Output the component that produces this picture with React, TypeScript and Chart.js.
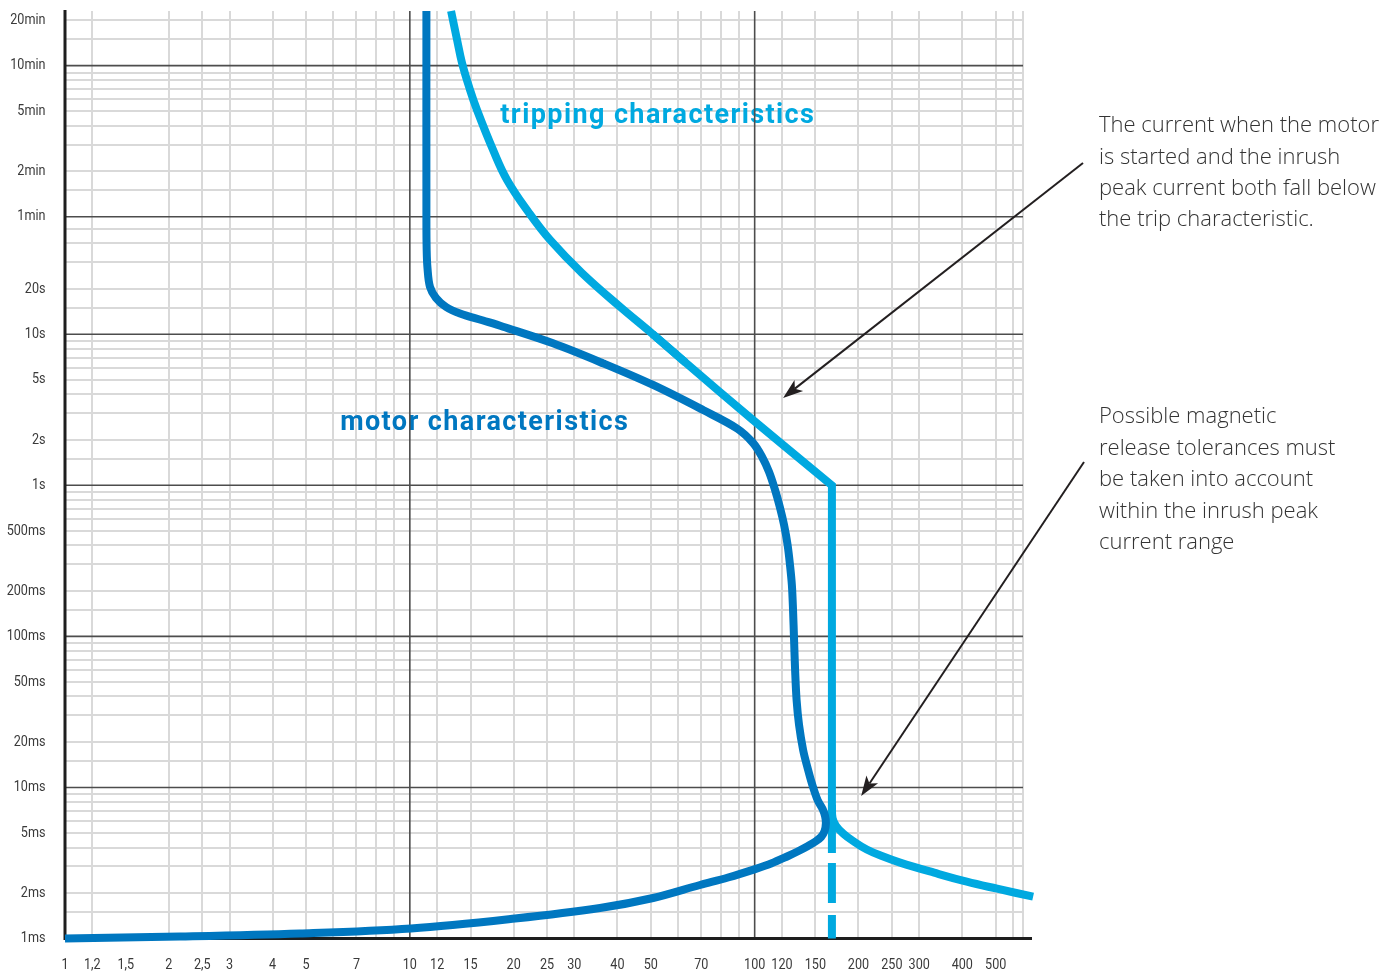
import { useEffect, useRef } from "react";
import { Chart, registerables } from "chart.js";

Chart.register(...registerables);

// Current as a multiple of rated current (x) against time in seconds (y)

// Motor start-up characteristic (drawn top to bottom, folding back at the inrush peak)
const motorCurrent = [11.17, 11.17, 11.19, 11.25, 11.44, 11.91, 12.74, 13.98, 16.31, 18.63, 26.02, 36.35, 50.74, 70.84, 88.9, 98.95, 105.1, 110.1, 114.6, 118.5, 121.7, 124.6, 126.6, 128.2, 129.2, 130.1, 131.0, 132.3, 134.5, 138.2, 142.4, 146.7, 152.2, 157.4, 160.0, 160.9, 159.5, 155.8, 149.7, 142.8, 133.6, 124.2, 111.6, 100.3, 83.7, 69.4, 50.74, 35.6, 20.19, 10.08, 4.8, 2.156, 1];
const motorTime = [1380, 57.1, 36.1, 27.5, 20.6, 17.4, 15.15, 13.73, 12.33, 11.22, 8.71, 6.42, 4.615, 3.152, 2.378, 1.906, 1.54, 1.225, 0.931, 0.708, 0.546, 0.4026, 0.2969, 0.2188, 0.1495, 0.0946, 0.0599, 0.03793, 0.0259, 0.0177, 0.01345, 0.01054, 0.008258, 0.0072, 0.006471, 0.005815, 0.005147, 0.004698, 0.004367, 0.004095, 0.003778, 0.00349, 0.003137, 0.00288, 0.002534, 0.00226, 0.001854, 0.001592, 0.001356, 0.001165, 0.001079, 0.00103, 0.001];

// Tripping characteristic: thermal (curved) part
const tripThermalCurrent = [13.17, 13.71, 14.17, 14.95, 15.66, 17.43, 19.14, 22.17, 25.51, 31.58, 40.7, 50.57, 63];
const tripThermalTime = [1380, 887, 625, 414, 305, 166, 105, 63.5, 42.1, 25.4, 15.2, 10.04, 6.5];

// Tripping characteristic: straight part down to the magnetic release
const tripSlopeCurrent = [50.57, 63, 78.8, 98.6, 123, 167.5, 167.5];
const tripSlopeTime = [10.04, 6.5, 4.2, 2.72, 1.79, 1, 0.00368];

// Magnetic release tolerance (dashed)
const tripToleranceCurrent = [167.5, 167.5];
const tripToleranceTime = [0.00368, 0.001];

// Current-limiting branch beyond the magnetic release
const tripBranchCurrent = [167.5, 168.2, 172.2, 180.5, 192.9, 211.4, 234.9, 264.1, 331.4, 412.3, 504.7, 642];
const tripBranchTime = [0.00765, 0.00628, 0.00556, 0.00496, 0.00442, 0.00388, 0.0035, 0.00318, 0.002727, 0.002377, 0.002136, 0.001891];

// Axes
const X_MIN = 1;
const X_MAX = 600;
const Y_MIN = 0.001;
const Y_MAX = 1380;

const xGridValues = [1, 1.2, 1.5, 2, 2.5, 3, 4, 5, 6, 7, 8, 9, 10, 12, 15, 20, 25, 30, 40, 50, 60, 70, 80, 90, 100, 120, 150, 200, 250, 300, 400, 500, 560, 600];
const xMajorValues = [10, 100];
const xUnlinedValues = [1, 1.5];
const xLabelValues = [1, 1.2, 1.5, 2, 2.5, 3, 4, 5, 7, 10, 12, 15, 20, 25, 30, 40, 50, 70, 100, 120, 150, 200, 250, 300, 400, 500];
const xLabelTexts = ["1", "1,2", "1,5", "2", "2,5", "3", "4", "5", "7", "10", "12", "15", "20", "25", "30", "40", "50", "70", "100", "120", "150", "200", "250", "300", "400", "500"];

const yGridValues = [
  0.001, 0.0015, 0.002, 0.003, 0.004, 0.005, 0.006, 0.007, 0.008, 0.009,
  0.01, 0.015, 0.02, 0.03, 0.04, 0.05, 0.06, 0.07, 0.08, 0.09,
  0.1, 0.15, 0.2, 0.3, 0.4, 0.5, 0.6, 0.7, 0.8, 0.9,
  1, 1.5, 2, 3, 4, 5, 6, 7, 8, 9,
  10, 15, 20, 30, 40, 50,
  60, 90, 120, 180, 240, 300, 360, 420, 480, 540,
  600, 900, 1200,
];
const yMajorValues = [0.01, 0.1, 1, 10, 60, 600];
const yUnlinedValues = [0.001];
const yLabelValues = [1200, 600, 300, 120, 60, 20, 10, 5, 2, 1, 0.5, 0.2, 0.1, 0.05, 0.02, 0.01, 0.005, 0.002, 0.001];
const yLabelTexts = ["20min", "10min", "5min", "2min", "1min", "20s", "10s", "5s", "2s", "1s", "500ms", "200ms", "100ms", "50ms", "20ms", "10ms", "5ms", "2ms", "1ms"];

// Curve captions, anchored in data space (left edge, vertical centre)
const tripCaption = "tripping characteristics";
const tripCaptionAt = [18.3, 278.6];
const motorCaption = "motor characteristics";
const motorCaptionAt = [6.28, 2.585];

// Notes on the right with the data points their arrows indicate
const noteStartTexts = [
  "The current when the motor",
  "is started and the inrush",
  "peak current both fall below",
  "the trip characteristic.",
];
const noteStartArrowTip = [120.9, 3.79];
const noteToleranceTexts = [
  "Possible magnetic",
  "release tolerances must",
  "be taken into account",
  "within the inrush peak",
  "current range",
];
const noteToleranceArrowTip = [203.6, 0.00878];

const MOTOR_BLUE = "#0077c0";
const TRIP_BLUE = "#00a9e0";
const GRID_LIGHT = "#d9d9d9";
const GRID_DARK = "#4d4d4d";
const AXIS_COLOR = "#1e1e1e";
const TEXT_COLOR = "#333333";
const TICK_COLOR = "#3a3a3a";
const TICK_FONT = "15px Roboto, Arial, sans-serif";
const TICK_CONDENSE = 0.84;

const zip = (xs: number[], ys: number[]) => xs.map((x, i) => ({ x, y: ys[i] }));

function drawArrow(ctx: CanvasRenderingContext2D, fx: number, fy: number, tx: number, ty: number) {
  const ang = Math.atan2(ty - fy, tx - fx);
  const c = Math.cos(ang);
  const s = Math.sin(ang);
  const len = 20;
  const half = 7;
  const notch = 5;
  const bx = tx - c * len;
  const by = ty - s * len;
  ctx.beginPath();
  ctx.moveTo(fx, fy);
  ctx.lineTo(tx - c * (len - notch), ty - s * (len - notch));
  ctx.stroke();
  ctx.beginPath();
  ctx.moveTo(tx, ty);
  ctx.lineTo(bx - s * half, by + c * half);
  ctx.lineTo(tx - c * (len - notch), ty - s * (len - notch));
  ctx.lineTo(bx + s * half, by - c * half);
  ctx.closePath();
  ctx.fill();
}

// Narrow tick label: horizontally condensed text
function drawTickLabel(ctx: CanvasRenderingContext2D, text: string, px: number, py: number, align: CanvasTextAlign) {
  ctx.save();
  ctx.translate(px, py);
  ctx.scale(TICK_CONDENSE, 1);
  ctx.textAlign = align;
  ctx.fillText(text, 0, 0);
  ctx.restore();
}

const decorations = {
  id: "decorations",
  beforeDatasetsDraw(chart: any) {
    const { ctx, chartArea: a, scales } = chart;
    const x = scales.x;
    const y = scales.y;
    ctx.save();

    // tick labels
    ctx.font = TICK_FONT;
    ctx.fillStyle = TICK_COLOR;
    ctx.textBaseline = "middle";
    xLabelValues.forEach((v, i) => drawTickLabel(ctx, xLabelTexts[i], x.getPixelForValue(v), a.bottom + 26.5, "center"));
    yLabelValues.forEach((v, i) => drawTickLabel(ctx, yLabelTexts[i], a.left - 19.5, y.getPixelForValue(v), "right"));

    // curve captions
    ctx.font = "bold 27px Roboto, Arial, sans-serif";
    ctx.textBaseline = "middle";
    ctx.textAlign = "left";
    (ctx as any).letterSpacing = "1.4px";
    ctx.fillStyle = TRIP_BLUE;
    ctx.fillText(tripCaption, x.getPixelForValue(tripCaptionAt[0]), y.getPixelForValue(tripCaptionAt[1]));
    ctx.fillStyle = MOTOR_BLUE;
    ctx.fillText(motorCaption, x.getPixelForValue(motorCaptionAt[0]), y.getPixelForValue(motorCaptionAt[1]));
    (ctx as any).letterSpacing = "0px";

    // decade lines
    ctx.strokeStyle = GRID_DARK;
    ctx.lineWidth = 1.6;
    for (const v of xMajorValues) {
      const px = x.getPixelForValue(v);
      ctx.beginPath();
      ctx.moveTo(px, a.top);
      ctx.lineTo(px, a.bottom);
      ctx.stroke();
    }
    for (const v of yMajorValues) {
      const py = y.getPixelForValue(v);
      ctx.beginPath();
      ctx.moveTo(a.left, py);
      ctx.lineTo(a.right, py);
      ctx.stroke();
    }

    // axes
    ctx.strokeStyle = AXIS_COLOR;
    ctx.lineWidth = 3;
    ctx.beginPath();
    ctx.moveTo(a.left, a.top - 1);
    ctx.lineTo(a.left, a.bottom + 1.5);
    ctx.moveTo(a.left - 1.5, a.bottom);
    ctx.lineTo(a.right + 9, a.bottom);
    ctx.stroke();
    ctx.restore();
  },
  afterDatasetsDraw(chart: any) {
    const { ctx, chartArea: a, scales } = chart;
    const x = scales.x;
    const y = scales.y;
    ctx.save();

    // notes
    ctx.font = "300 22px 'Open Sans', Arial, sans-serif";
    ctx.fillStyle = TEXT_COLOR;
    ctx.textAlign = "left";
    ctx.textBaseline = "middle";
    const noteX = a.right + 76;
    noteStartTexts.forEach((t, i) => ctx.fillText(t, noteX, 126 + i * 31.4));
    noteToleranceTexts.forEach((t, i) => ctx.fillText(t, noteX, 417 + i * 31.5));

    // arrows
    ctx.strokeStyle = "#231f20";
    ctx.fillStyle = "#231f20";
    ctx.lineWidth = 2;
    drawArrow(ctx, a.right + 60, 163, x.getPixelForValue(noteStartArrowTip[0]), y.getPixelForValue(noteStartArrowTip[1]));
    drawArrow(ctx, a.right + 61, 462, x.getPixelForValue(noteToleranceArrowTip[0]), y.getPixelForValue(noteToleranceArrowTip[1]));
    ctx.restore();
  },
};

export default function App() {
  const canvasRef = useRef<HTMLCanvasElement>(null);

  useEffect(() => {
    const canvas = canvasRef.current;
    if (!canvas) return;

    const lineBase = {
      showLine: true,
      pointRadius: 0,
      pointHoverRadius: 0,
      borderWidth: 8,
      fill: false,
      clip: false as const,
      borderCapStyle: "butt" as const,
    };

    const gridColor = (majors: number[], unlined: number[]) => (c: any) => {
      const v = c.tick ? c.tick.value : NaN;
      if (majors.includes(v) || unlined.includes(v)) return "rgba(0,0,0,0)";
      return GRID_LIGHT;
    };

    const chart = new Chart(canvas, {
      type: "scatter",
      data: {
        datasets: [
          { ...lineBase, label: "motor", data: zip(motorCurrent, motorTime), borderColor: MOTOR_BLUE, tension: 0.35, borderJoinStyle: "round" },
          { ...lineBase, label: "trip thermal", data: zip(tripThermalCurrent, tripThermalTime), borderColor: TRIP_BLUE, tension: 0.4, borderJoinStyle: "round" },
          { ...lineBase, label: "trip slope", data: zip(tripSlopeCurrent, tripSlopeTime), borderColor: TRIP_BLUE, tension: 0, borderJoinStyle: "miter" },
          { ...lineBase, label: "trip tolerance", data: zip(tripToleranceCurrent, tripToleranceTime), borderColor: TRIP_BLUE, tension: 0, borderDash: [40, 12], borderDashOffset: 42 },
          { ...lineBase, label: "trip branch", data: zip(tripBranchCurrent, tripBranchTime), borderColor: TRIP_BLUE, tension: 0.4, borderJoinStyle: "round" },
        ],
      },
      options: {
        responsive: true,
        maintainAspectRatio: false,
        animation: false,
        events: [],
        layout: { padding: { left: 0, top: 11, right: 377, bottom: 0 } },
        plugins: { legend: { display: false }, tooltip: { enabled: false } },
        scales: {
          x: {
            type: "logarithmic",
            min: X_MIN,
            max: X_MAX,
            afterBuildTicks: (s: any) => {
              s.ticks = xGridValues.map((value) => ({ value }));
            },
            afterFit: (s: any) => {
              s.height = 32.5;
              s.paddingLeft = 0;
              s.paddingRight = 0;
            },
            border: { display: false },
            grid: { drawTicks: false, lineWidth: 2, color: gridColor(xMajorValues, xUnlinedValues) },
            ticks: { display: false, autoSkip: false },
          },
          y: {
            type: "logarithmic",
            min: Y_MIN,
            max: Y_MAX,
            afterBuildTicks: (s: any) => {
              s.ticks = yGridValues.map((value) => ({ value }));
            },
            afterFit: (s: any) => {
              s.width = 65;
              s.paddingTop = 0;
              s.paddingBottom = 0;
            },
            border: { display: false },
            grid: { drawTicks: false, lineWidth: 2, color: gridColor(yMajorValues, yUnlinedValues) },
            ticks: { display: false, autoSkip: false },
          },
        },
      },
      plugins: [decorations],
    } as any);

    return () => chart.destroy();
  }, []);

  return (
    <div style={{ position: "fixed", left: 0, top: 0, width: 1400, height: 971, background: "#ffffff" }}>
      <canvas ref={canvasRef} />
    </div>
  );
}
